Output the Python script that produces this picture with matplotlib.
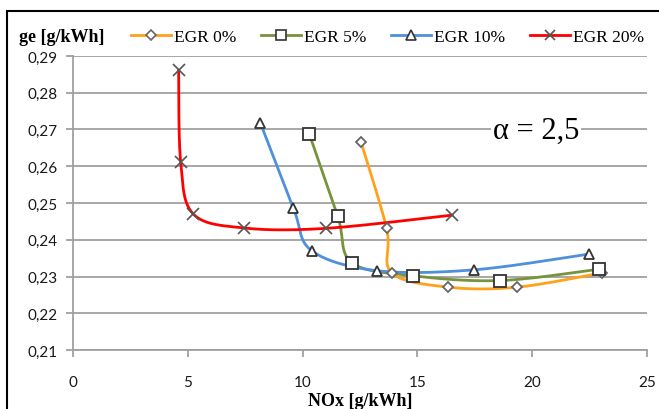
import numpy as np
import matplotlib
matplotlib.use("Agg")
import matplotlib.pyplot as plt
from matplotlib.patches import Rectangle
from matplotlib.lines import Line2D

# ---- data ----
egr0_x = [12.54, 13.66, 13.88, 16.35, 19.35, 23.05]
egr0_y = [0.2667, 0.2431, 0.2310, 0.2271, 0.2271, 0.2310]

egr5_x = [10.29, 11.53, 12.14, 14.82, 18.61, 22.92]
egr5_y = [0.2688, 0.2464, 0.2338, 0.2302, 0.2289, 0.2320]

egr10_x = [8.16, 9.60, 10.40, 13.22, 17.45, 22.47]
egr10_y = [0.2718, 0.2486, 0.2370, 0.2316, 0.2318, 0.2361]

egr20_x = [4.60, 4.69, 5.24, 7.45, 11.02, 16.52]
egr20_y = [0.2862, 0.2611, 0.2470, 0.2432, 0.2431, 0.2467]

labels = ["EGR 0%", "EGR 5%", "EGR 10%", "EGR 20%"]
x_ticks = [0, 5, 10, 15, 20, 25]
y_ticks = [0.21, 0.22, 0.23, 0.24, 0.25, 0.26, 0.27, 0.28, 0.29]
y_tick_labels = ["0,21", "0,22", "0,23", "0,24", "0,25", "0,26", "0,27", "0,28", "0,29"]
annotation = "α = 2,5"

colors = ["#FFA11A", "#77933C", "#4F8FDB", "#FF0000"]
markers = ["D", "s", "^", "x"]
msizes = [5.5, 8.5, 7.5, 8]


def smooth(xs, ys, n=30):
    """Excel-like smoothed line (Catmull-Rom as cubic Bezier)."""
    P = np.column_stack([xs, ys]).astype(float)
    m = len(P)
    out = [P[0]]
    t = np.linspace(0, 1, n)[1:]
    for i in range(m - 1):
        p0 = P[i - 1] if i > 0 else P[i]
        p1 = P[i]
        p2 = P[i + 1]
        p3 = P[i + 2] if i + 2 < m else P[i + 1]
        c1 = p1 + (p2 - p0) / 6.0
        c2 = p2 - (p3 - p1) / 6.0
        for tt in t:
            b = ((1 - tt) ** 3) * p1 + 3 * ((1 - tt) ** 2) * tt * c1 + 3 * (1 - tt) * tt ** 2 * c2 + tt ** 3 * p2
            out.append(b)
    out = np.array(out)
    return out[:, 0], out[:, 1]


fig = plt.figure(figsize=(6.59, 4.10), dpi=100)
W, H = 659, 410
ax = fig.add_axes([73 / W, 1 - 351 / H, (647 - 73) / W, (351 - 57) / H])

series = [(egr0_x, egr0_y), (egr5_x, egr5_y), (egr10_x, egr10_y), (egr20_x, egr20_y)]
handles = []
for (xs, ys), c, mk, ms, lab in zip(series, colors, markers, msizes, labels):
    sx, sy = smooth(xs, ys)
    ax.plot(sx, sy, color=c, lw=2.0, zorder=3, solid_capstyle="round")
    if mk == "x":
        ax.plot(xs, ys, ls="none", marker="x", ms=ms, mec="#555555", mew=1.2, zorder=4)
    else:
        ax.plot(xs, ys, ls="none", marker=mk, ms=ms, mfc="white",
                mec="#333333" if mk != "D" else "#666666", mew=1.3, zorder=4)
    if mk == "x":
        h = Line2D([], [], color=c, lw=2.0, marker="x", ms=7, mec="#555555", mew=1.2)
    else:
        h = Line2D([], [], color=c, lw=2.0, marker=mk, ms=ms * 0.9, mfc="white",
                   mec="#333333" if mk != "D" else "#666666", mew=1.2)
    handles.append(h)

ax.set_xlim(0, 25)
ax.set_ylim(0.21, 0.29)
ax.set_xticks(x_ticks)
ax.set_yticks(y_ticks)
ax.set_yticklabels(y_tick_labels)
ax.grid(axis="y", color="#a0a0a0", lw=1.3, zorder=0)
for s in ["top", "right"]:
    ax.spines[s].set_visible(False)
for s in ["left", "bottom"]:
    ax.spines[s].set_color("#a0a0a0")
    ax.spines[s].set_linewidth(1.3)
ax.tick_params(axis="both", direction="out", color="#a0a0a0", width=1.3, length=5,
               labelsize=11, labelcolor="#1a1a1a")
for lab in ax.get_xticklabels() + ax.get_yticklabels():
    lab.set_family("Lato")
ax.tick_params(axis="x", pad=13)
ax.tick_params(axis="y", pad=6)

ax.set_axisbelow(True)

ax.text((536 - 73) / 574, (351 - 131) / 294, annotation, transform=ax.transAxes,
        ha="center", va="center", fontsize=22, family="Liberation Serif",
        bbox=dict(facecolor="white", edgecolor="none", pad=1.5), zorder=5)

fig.text(19 / W, 1 - 38 / H, "ge [g/kWh]", fontsize=13, fontweight="bold",
         family="Liberation Serif", ha="left", va="center")
fig.text(360 / W, 1 - 402 / H, "NOx [g/kWh]", fontsize=13, fontweight="bold",
         family="Liberation Serif", ha="center", va="center")

leg = fig.legend(handles, labels, loc="center left", bbox_to_anchor=(131 / W, 1 - 38 / H),
                 ncol=4, frameon=False, prop=dict(family="Liberation Serif", size=12.5),
                 handlelength=2.3, handletextpad=0.15, columnspacing=1.45, borderpad=0,
                 borderaxespad=0)

# outer chart frame (only top and left edges visible in crop)
fig.add_artist(Rectangle((7 / W, -0.1), 1.2, 1 - 12 / H + 0.1, transform=fig.transFigure,
                         fill=False, edgecolor="black", lw=1.5))

fig.savefig("out.png", dpi=100)
